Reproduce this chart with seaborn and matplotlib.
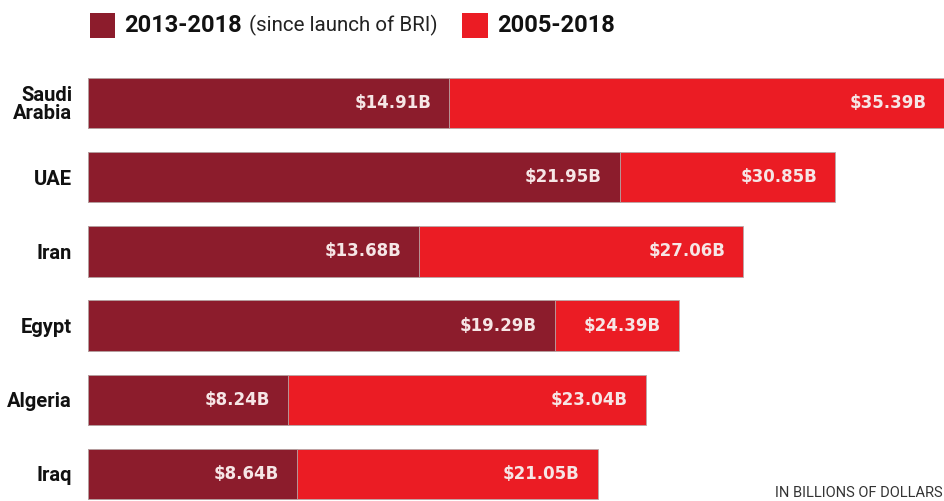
import matplotlib
matplotlib.use("Agg")
import matplotlib.pyplot as plt
from matplotlib.patches import Rectangle
import seaborn as sns
import pandas as pd

countries = ["Saudi\nArabia", "UAE", "Iran", "Egypt", "Algeria", "Iraq"]
since_bri = [14.91, 21.95, 13.68, 19.29, 8.24, 8.64]
total = [35.39, 30.85, 27.06, 24.39, 23.04, 21.05]

DARK = "#8C1C2C"
RED = "#EB1C24"

sns.set_style("white")
plt.rcParams["font.family"] = ["Roboto", "DejaVu Sans"]

df = pd.DataFrame({"country": countries, "since_bri": since_bri, "total": total})

W, H = 945, 501
fig = plt.figure(figsize=(W / 100, H / 100), dpi=100)
ax = fig.add_axes([88 / W, 0, 1 - 88 / W, 435 / H])

sns.barplot(data=df, x="total", y="country", color=RED, saturation=1, width=0.68,
            edgecolor="#b8a8a8", linewidth=0.6, ax=ax)
sns.barplot(data=df, x="since_bri", y="country", color=DARK, saturation=1, width=0.68,
            edgecolor="#b8a8a8", linewidth=0.6, ax=ax)

ax.set_xlim(0, 35.39)
ax.set_ylim(5.364, -0.5)
ax.set_xlabel("")
ax.set_ylabel("")
ax.set_xticks([])
for s in ax.spines.values():
    s.set_visible(False)
ax.tick_params(axis="y", length=0, pad=11.5)
for lab in ax.get_yticklabels():
    lab.set_fontweight("bold")
    lab.set_fontsize(14.5)
    lab.set_color("#111111")
    lab.set_linespacing(0.95)

# value labels inside the bar ends
for i in range(len(countries)):
    for v in (since_bri[i], total[i]):
        ax.annotate(f"${v:.2f}B", xy=(v, i), xytext=(-18, 0), textcoords="offset pixels",
                    ha="right", va="center", color="#F6E6E6", fontsize=12,
                    fontweight="bold", family="DejaVu Sans")

# legend at the top
fig.patches.append(Rectangle((90 / W, 1 - 38 / H), 25 / W, 25 / H, transform=fig.transFigure,
                             facecolor=DARK, edgecolor="none"))
fig.text(124 / W, 1 - 25 / H, "2013-2018", ha="left", va="center", fontsize=17,
         fontweight="bold", color="#111111")
fig.text(249 / W, 1 - 25 / H, "(since launch of BRI)", ha="left", va="center", fontsize=14.8,
         color="#222222")
fig.patches.append(Rectangle((462 / W, 1 - 38 / H), 26 / W, 25 / H, transform=fig.transFigure,
                             facecolor=RED, edgecolor="none"))
fig.text(497 / W, 1 - 25 / H, "2005-2018", ha="left", va="center", fontsize=17,
         fontweight="bold", color="#111111")

fig.text(943 / W, 1 - 493 / H, "IN BILLIONS OF DOLLARS", ha="right", va="center",
         fontsize=10.5, color="#333333")

fig.savefig("out.png", dpi=100)
